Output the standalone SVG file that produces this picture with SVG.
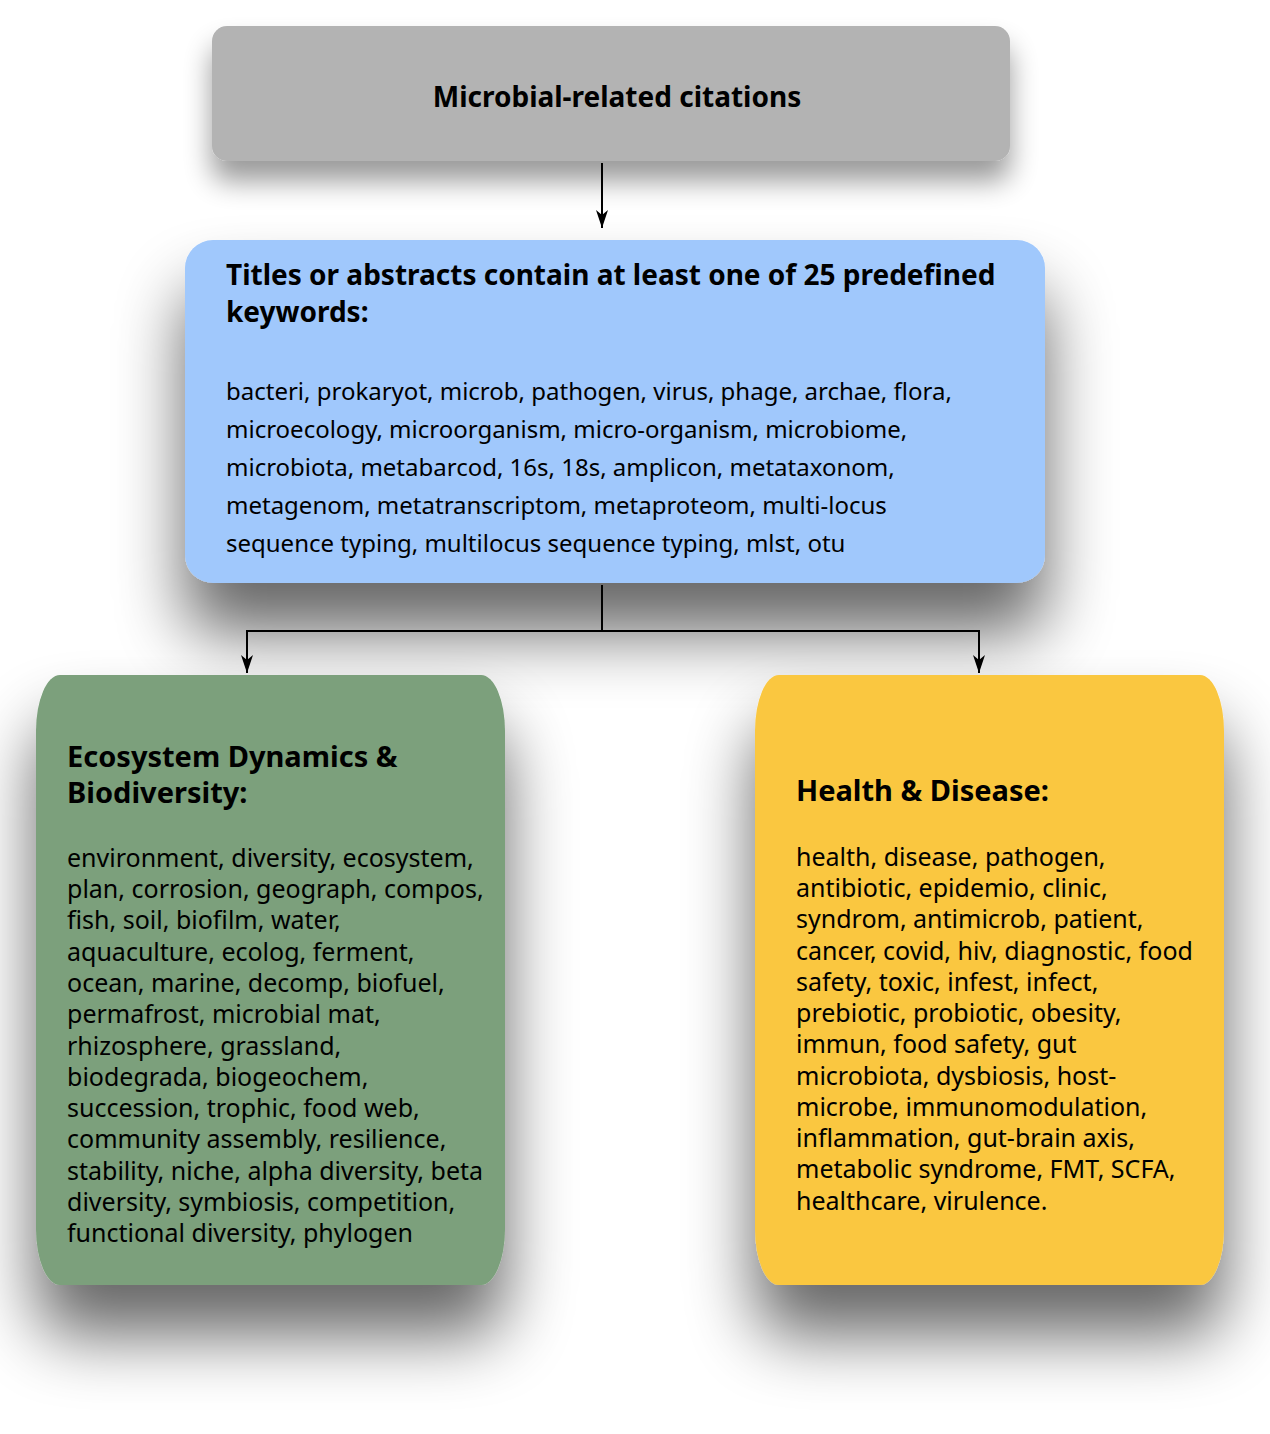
<svg xmlns="http://www.w3.org/2000/svg" width="1270" height="1434" viewBox="0 0 1270 1434">
  <defs>
    <filter id="shadow" x="-30%" y="-30%" width="160%" height="180%">
      <feGaussianBlur in="SourceAlpha" stdDeviation="34"/>
      <feOffset dx="0" dy="50" result="blur"/>
      <feComponentTransfer><feFuncA type="linear" slope="0.6"/></feComponentTransfer>
      <feMerge><feMergeNode/><feMergeNode in="SourceGraphic"/></feMerge>
    </filter>
    <filter id="shadowSmall" x="-20%" y="-40%" width="140%" height="200%">
      <feGaussianBlur in="SourceAlpha" stdDeviation="14"/>
      <feOffset dx="0" dy="20" result="blur"/>
      <feComponentTransfer><feFuncA type="linear" slope="0.4"/></feComponentTransfer>
      <feMerge><feMergeNode/><feMergeNode in="SourceGraphic"/></feMerge>
    </filter>
    <marker id="arrow" viewBox="0 0 18 12" refX="18" refY="6" markerWidth="18" markerHeight="12" markerUnits="userSpaceOnUse" orient="auto">
      <path d="M0,0 L18,6 L0,12 L5,6 Z" fill="#000"/>
    </marker>
  </defs>
  <style>
    text { font-family: "Noto Sans", "Open Sans", sans-serif; fill: #000; }
    .head { font-size: 28px; font-weight: bold; }
    .body { font-size: 24px; }
    .head-lg { font-size: 29px; font-weight: bold; }
    .body-lg { font-size: 25px; }
    .conn { fill: none; stroke: #000; stroke-width: 2; }
  </style>

  <rect width="1270" height="1434" fill="#ffffff"/>

  <!-- connectors -->
  <g id="connectors">
    <path class="conn" d="M602,163 V228" marker-end="url(#arrow)"/>
    <path class="conn" d="M602,585 V631 H247 V673" marker-end="url(#arrow)"/>
    <path class="conn" d="M602,631 H979 V673" marker-end="url(#arrow)"/>
  </g>

  <!-- top node -->
  <g id="node-citations">
    <rect x="212" y="26" width="798" height="135" rx="15" ry="15" fill="#b3b3b3" filter="url(#shadowSmall)"/>
    <text class="head" x="617" y="107" text-anchor="middle">Microbial-related citations</text>
  </g>

  <!-- keyword filter node -->
  <g id="node-keywords">
    <rect x="185" y="240" width="860" height="343" rx="28" ry="28" fill="#a0c8fc" filter="url(#shadow)"/>
    <text class="head" x="226" y="285">Titles or abstracts contain at least one of 25 predefined</text>
    <text class="head" x="226" y="322">keywords:</text>
    <text class="body" x="226" y="400">bacteri, prokaryot, microb, pathogen, virus, phage, archae, flora,</text>
    <text class="body" x="226" y="438">microecology, microorganism, micro-organism, microbiome,</text>
    <text class="body" x="226" y="476">microbiota, metabarcod, 16s, 18s, amplicon, metataxonom,</text>
    <text class="body" x="226" y="514">metagenom, metatranscriptom, metaproteom, multi-locus</text>
    <text class="body" x="226" y="552">sequence typing, multilocus sequence typing, mlst, otu</text>
  </g>

  <!-- ecosystem node -->
  <g id="node-ecosystem">
    <rect x="36" y="675" width="469" height="610" rx="24" ry="56" fill="#7ba07b" filter="url(#shadow)"/>
    <text class="head-lg" x="67" y="767">Ecosystem Dynamics &amp;</text>
    <text class="head-lg" x="67" y="803">Biodiversity:</text>
    <text class="body-lg" x="67" y="867">environment, diversity, ecosystem,</text>
    <text class="body-lg" x="67" y="898">plan, corrosion, geograph, compos,</text>
    <text class="body-lg" x="67" y="929">fish, soil, biofilm, water,</text>
    <text class="body-lg" x="67" y="961">aquaculture, ecolog, ferment,</text>
    <text class="body-lg" x="67" y="992">ocean, marine, decomp, biofuel,</text>
    <text class="body-lg" x="67" y="1023">permafrost, microbial mat,</text>
    <text class="body-lg" x="67" y="1055">rhizosphere, grassland,</text>
    <text class="body-lg" x="67" y="1086">biodegrada, biogeochem,</text>
    <text class="body-lg" x="67" y="1117">succession, trophic, food web,</text>
    <text class="body-lg" x="67" y="1148">community assembly, resilience,</text>
    <text class="body-lg" x="67" y="1180">stability, niche, alpha diversity, beta</text>
    <text class="body-lg" x="67" y="1211">diversity, symbiosis, competition,</text>
    <text class="body-lg" x="67" y="1242">functional diversity, phylogen</text>
  </g>

  <!-- health node -->
  <g id="node-health">
    <rect x="755" y="675" width="469" height="610" rx="24" ry="56" fill="#fac741" filter="url(#shadow)"/>
    <text class="head-lg" x="796" y="801">Health &amp; Disease:</text>
    <text class="body-lg" x="796" y="866">health, disease, pathogen,</text>
    <text class="body-lg" x="796" y="897">antibiotic, epidemio, clinic,</text>
    <text class="body-lg" x="796" y="928">syndrom, antimicrob, patient,</text>
    <text class="body-lg" x="796" y="960">cancer, covid, hiv, diagnostic, food</text>
    <text class="body-lg" x="796" y="991">safety, toxic, infest, infect,</text>
    <text class="body-lg" x="796" y="1022">prebiotic, probiotic, obesity,</text>
    <text class="body-lg" x="796" y="1053">immun, food safety, gut</text>
    <text class="body-lg" x="796" y="1085">microbiota, dysbiosis, host-</text>
    <text class="body-lg" x="796" y="1116">microbe, immunomodulation,</text>
    <text class="body-lg" x="796" y="1147">inflammation, gut-brain axis,</text>
    <text class="body-lg" x="796" y="1178">metabolic syndrome, FMT, SCFA,</text>
    <text class="body-lg" x="796" y="1210">healthcare, virulence.</text>
  </g>
</svg>
